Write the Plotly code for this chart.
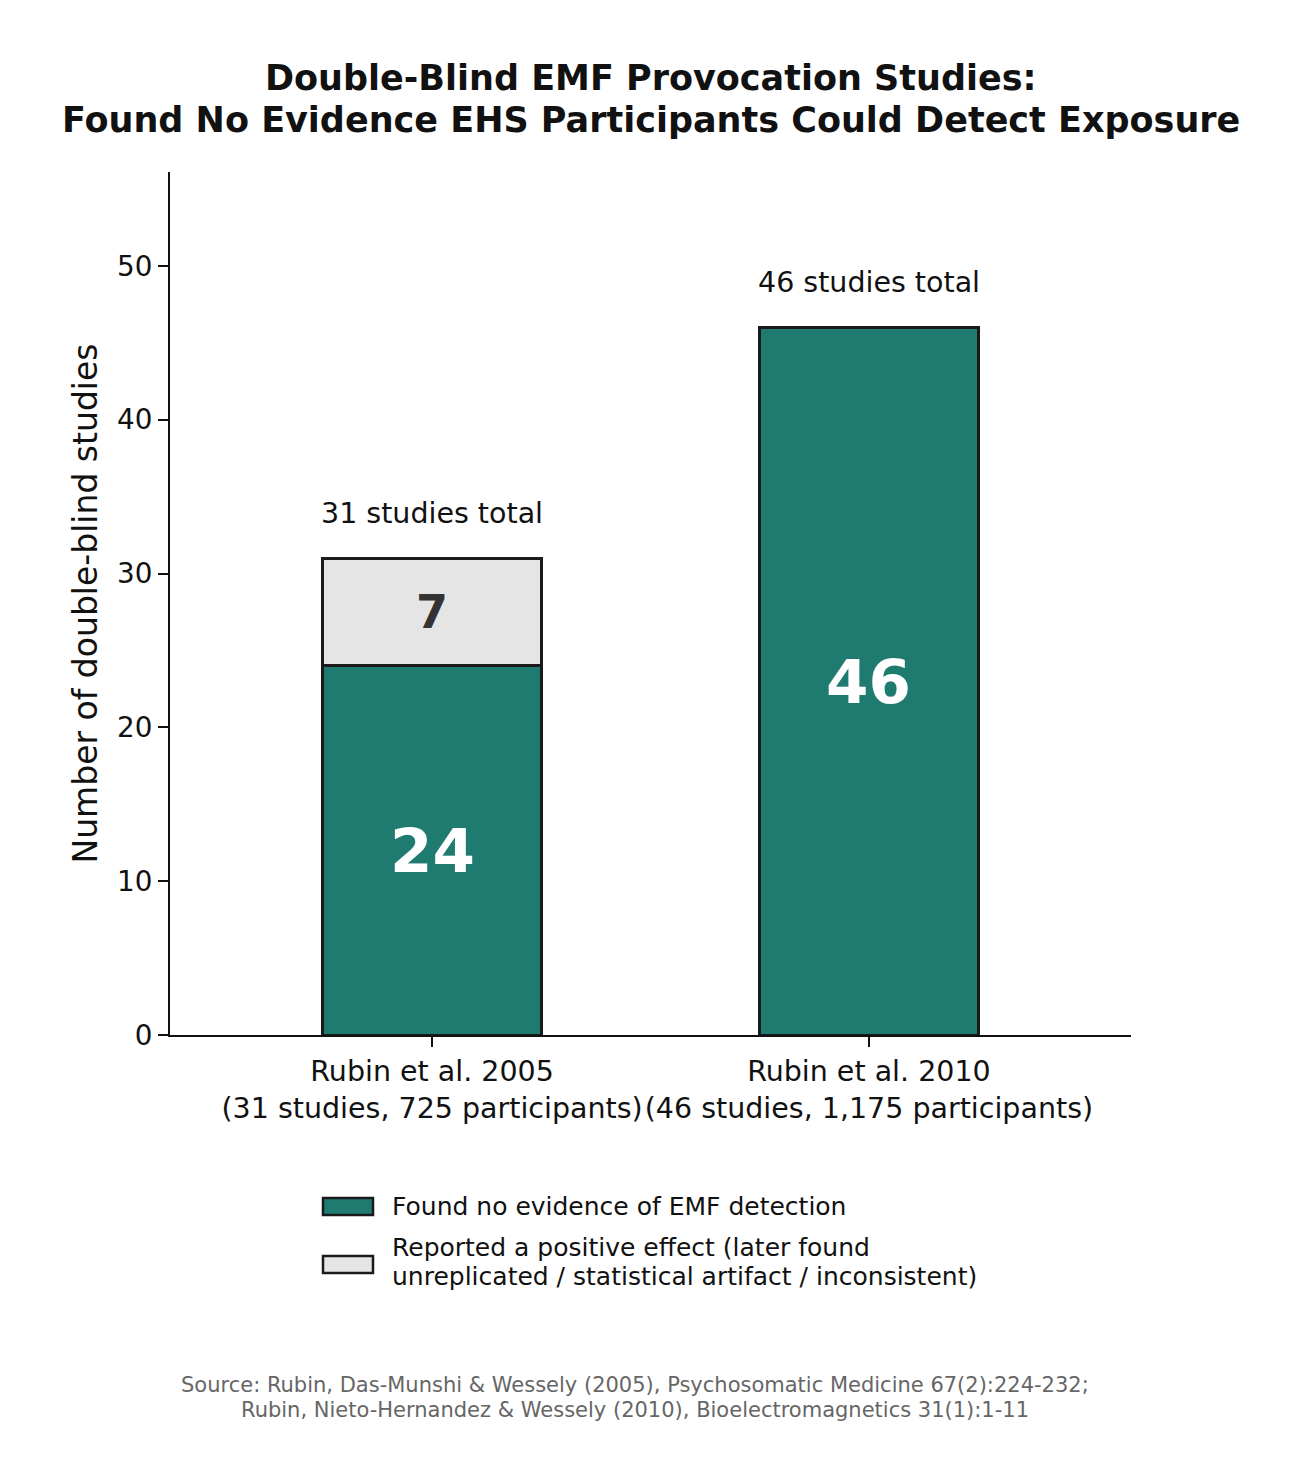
import plotly.graph_objects as go

# data
categories = ["Rubin et al. 2005<br>(31 studies, 725 participants)",
              "Rubin et al. 2010<br>(46 studies, 1,175 participants)"]
no_evidence = [24, 46]
positive_effect = [7, None]
totals = [31, 46]
series_names = ["Found no evidence of EMF detection",
                "Reported a positive effect (later found<br>unreplicated / statistical artifact / inconsistent)"]
y_ticks = [0, 10, 20, 30, 40, 50]

TEAL = "#1f7a70"
GREY = "#e5e5e5"
EDGE = "#1a1a1a"
FONT = "DejaVu Sans"

W, H = 1301, 1484
OFF = 8  # page offset of the plot div
L, T = 170 - OFF, 172 - OFF
pw, ph = 961, 863
R, B = W - L - pw, H - T - ph


def px2paper(x, y):
    # target screenshot pixels -> paper coords
    return (x - OFF - L) / pw, (T + ph - (y - OFF)) / ph


fig = go.Figure()
fig.add_trace(go.Bar(x=categories, y=no_evidence, name=series_names[0], width=0.5,
                     marker=dict(color=TEAL, line=dict(color=EDGE, width=3)),
                     showlegend=False, hoverinfo="y"))
fig.add_trace(go.Bar(x=categories, y=positive_effect, name=series_names[1], width=0.5,
                     marker=dict(color=GREY, line=dict(color=EDGE, width=3)),
                     showlegend=False, hoverinfo="y"))

annotations = []
for cat, n, p, tot in zip(categories, no_evidence, positive_effect, totals):
    # big count inside teal bar
    annotations.append(dict(x=cat, y=n / 2, text="<b>%d</b>" % n, showarrow=False,
                            font=dict(family=FONT, size=61, color="white")))
    if p:
        annotations.append(dict(x=cat, y=n + p / 2, text="<b>%d</b>" % p, showarrow=False,
                                font=dict(family=FONT, size=46, color="#333333")))
    annotations.append(dict(x=cat, y=tot, text="%d studies total" % tot, showarrow=False,
                            yanchor="bottom", yshift=26,
                            font=dict(family=FONT, size=28.5, color="#111111")))

# hand drawn legend (matplotlib style wide patches)
shapes = []
legend_rows = [(1198, 1215, [1206], TEAL), (1256, 1273, [1247, 1276], GREY)]
for (y0, y1, ylines, col), name in zip(legend_rows, series_names):
    x0p, y0p = px2paper(323, y0)
    x1p, y1p = px2paper(373, y1)
    shapes.append(dict(type="rect", xref="paper", yref="paper", x0=x0p, x1=x1p, y0=y0p, y1=y1p,
                       fillcolor=col, line=dict(color=EDGE, width=2.5)))
    for line, yt in zip(name.split("<br>"), ylines):
        xt, ytp = px2paper(390, yt)
        annotations.append(dict(xref="paper", yref="paper", x=xt, y=ytp, text=line, showarrow=False,
                                xanchor="left", yanchor="middle", align="left",
                                font=dict(family=FONT, size=25, color="#111111")))

source_lines = ["Source: Rubin, Das-Munshi & Wessely (2005), Psychosomatic Medicine 67(2):224-232;",
                "Rubin, Nieto-Hernandez & Wessely (2010), Bioelectromagnetics 31(1):1-11"]
for line, yt in zip(source_lines, [1385, 1410]):
    sx, sy = px2paper(635, yt)
    annotations.append(dict(xref="paper", yref="paper", x=sx, y=sy, showarrow=False,
                            xanchor="center", yanchor="middle", text=line,
                            font=dict(family=FONT, size=21, color="#666666")))

title_lines = ["Double-Blind EMF Provocation Studies:",
               "Found No Evidence EHS Participants Could Detect Exposure"]
for line, yt in zip(title_lines, [78, 120]):
    tx, ty = px2paper(650.5, yt)
    annotations.append(dict(xref="paper", yref="paper", x=tx, y=ty, showarrow=False,
                            xanchor="center", yanchor="middle", text="<b>%s</b>" % line,
                            font=dict(family=FONT, size=35, color="#111111")))

fig.update_layout(
    width=W, height=H,
    margin=dict(l=L, r=R, t=T, b=B),
    barmode="stack",
    plot_bgcolor="white", paper_bgcolor="white",
    font=dict(family=FONT, color="#111111"),
    annotations=annotations,
    shapes=shapes,
    showlegend=False,
)
fig.update_xaxes(range=[-0.6, 1.6], showline=True, linecolor="#111111", linewidth=2.2,
                 ticks="outside", ticklen=10, tickwidth=2.2, tickcolor="#111111",
                 tickfont=dict(family=FONT, size=28.5, color="#111111"), showgrid=False)
fig.update_yaxes(range=[0, 56.1], showline=True, linecolor="#111111", linewidth=2.2,
                 tickvals=y_ticks, ticks="outside", ticklen=10, tickwidth=2.2, tickcolor="#111111",
                 tickfont=dict(family=FONT, size=27.8, color="#111111"), showgrid=False, zeroline=False,
                 title=dict(text="Number of double-blind studies", standoff=9,
                            font=dict(family=FONT, size=33, color="#111111")))

fig.write_html("out.html")
